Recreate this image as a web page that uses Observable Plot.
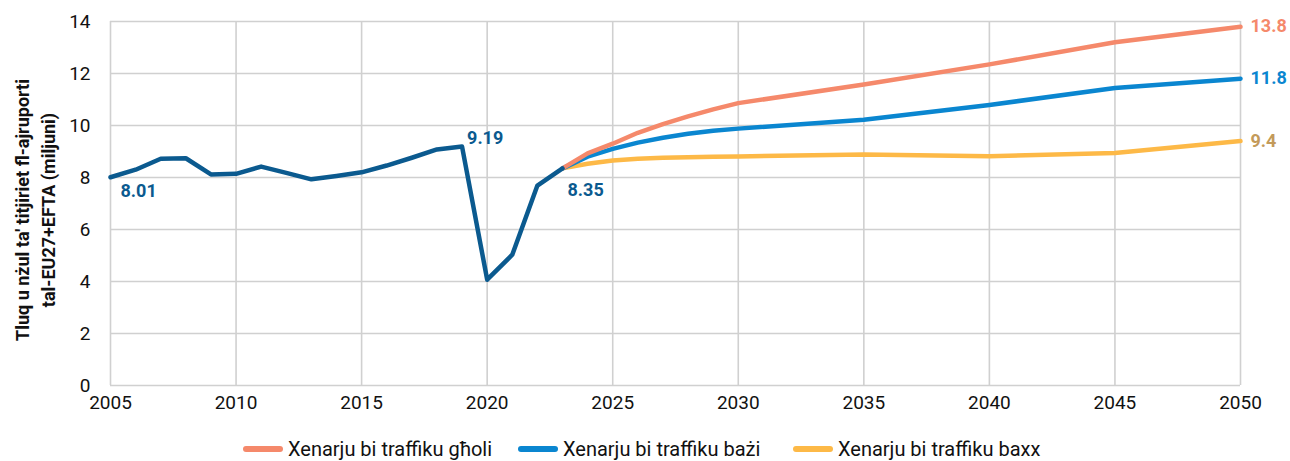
<!DOCTYPE html>
<html>
<head>
<meta charset="utf-8">
<script src="https://cdn.jsdelivr.net/npm/d3@7"></script>
<script src="https://cdn.jsdelivr.net/npm/@observablehq/plot@0.6"></script>
<style>
  html, body { margin: 0; padding: 0; background: #fff; }
  #chart { width: 1290px; }
  .legend { position: relative; height: 36px;
    font-family: "Roboto", sans-serif; font-size: 20px; color: #111; }
  .legend .item { display: flex; align-items: center; position: absolute; top: 12px; }
  .legend .sw { width: 40px; height: 6px; border-radius: 3px; margin-right: 5px; }
</style>
</head>
<body>
<div id="chart"></div>
<script>
// ---- data ----
const histYears = [2005,2006,2007,2008,2009,2010,2011,2012,2013,2014,2015,2016,2017,2018,2019,2020,2021,2022,2023];
const histValues = [8.01,8.30,8.72,8.74,8.12,8.14,8.42,8.18,7.93,8.06,8.20,8.46,8.76,9.08,9.19,4.07,5.03,7.69,8.35];

const scenYears = [2023,2024,2025,2026,2027,2028,2029,2030,2035,2040,2045,2050];
const highValues = [8.35,8.93,9.30,9.72,10.05,10.35,10.62,10.86,11.58,12.35,13.2,13.8];
const baseValues = [8.35,8.80,9.10,9.34,9.53,9.68,9.80,9.88,10.22,10.79,11.44,11.8];
const lowValues  = [8.35,8.53,8.65,8.72,8.76,8.78,8.80,8.81,8.88,8.82,8.94,9.4];

const seriesNames = ["Xenarju bi traffiku għoli", "Xenarju bi traffiku bażi", "Xenarju bi traffiku baxx"];
const seriesColors = ["#f5896b", "#0a86d0", "#fdb947"];
const histColor = "#0b5a8f";

const xTicks = [2005,2010,2015,2020,2025,2030,2035,2040,2045,2050];
const yTicks = [0,2,4,6,8,10,12,14];
const yTitle = ["Tluq u nżul ta' titjiriet fl-ajruporti", "tal-EU27+EFTA (miljuni)"];

// labelled points
const histLabels = [
  {year: 2005, value: 8.01, text: "8.01"},
  {year: 2019, value: 9.19, text: "9.19"},
  {year: 2023, value: 8.35, text: "8.35"}
];
const endLabels = [
  {year: 2050, value: 13.8, text: "13.8", color: "#f5896b"},
  {year: 2050, value: 11.8, text: "11.8", color: "#0a86d0"},
  {year: 2050, value: 9.4,  text: "9.4",  color: "#c39a5a"}
];

// ---- tables ----
const hist = histYears.map((y, i) => ({year: y, value: histValues[i]}));
const scen = [highValues, baseValues, lowValues].flatMap((vals, k) =>
  scenYears.map((y, i) => ({year: y, value: vals[i], series: seriesNames[k]})));

const font = "Roboto, sans-serif";
const lblOpts = {x: "year", y: "value", text: "text", textAnchor: "start", fill: histColor, fontWeight: "bold", fontSize: 18};

const plot = Plot.plot({
  width: 1290,
  height: 425,
  marginLeft: 110,
  marginRight: 50,
  marginTop: 21,
  marginBottom: 40,
  style: {fontFamily: font, fontSize: "18px", color: "#111", background: "#fff", overflow: "visible"},
  x: {domain: [2005, 2050], label: null},
  y: {domain: [0, 14], label: null},
  marks: [
    Plot.ruleX(xTicks, {stroke: "#d0d0d0", strokeWidth: 1.6}),
    Plot.ruleY(yTicks, {stroke: "#d0d0d0", strokeWidth: 1.6}),
    Plot.axisX({ticks: xTicks, tickFormat: d => String(d), tickSize: 0, tickPadding: 10, fontSize: 19, label: null}),
    Plot.axisY({ticks: yTicks, tickSize: 0, tickPadding: 20, fontSize: 19, label: null}),
    Plot.line(scen.filter(d => d.series === seriesNames[2]), {x: "year", y: "value", stroke: seriesColors[2], strokeWidth: 4.5, strokeLinejoin: "round"}),
    Plot.line(scen.filter(d => d.series === seriesNames[1]), {x: "year", y: "value", stroke: seriesColors[1], strokeWidth: 4.5, strokeLinejoin: "round"}),
    Plot.line(scen.filter(d => d.series === seriesNames[0]), {x: "year", y: "value", stroke: seriesColors[0], strokeWidth: 4.5, strokeLinejoin: "round"}),
    Plot.line(hist, {x: "year", y: "value", stroke: histColor, strokeWidth: 4.5, strokeLinejoin: "round"}),
    Plot.text([histLabels[0]], {...lblOpts, dx: 10, dy: 14}),
    Plot.text([histLabels[1]], {...lblOpts, dx: 5, dy: -8}),
    Plot.text([histLabels[2]], {...lblOpts, dx: 5, dy: 22}),
    Plot.text(endLabels, {x: "year", y: "value", text: "text", dx: 10, textAnchor: "start", fill: d => d.color, fontWeight: "bold", fontSize: 18})
  ]
});

document.getElementById("chart").appendChild(plot);

const svg = d3.select(plot);
// Y-axis title, two lines rotated
const t = svg.append("text")
  .attr("transform", "translate(0,210) rotate(-90)")
  .attr("text-anchor", "middle")
  .attr("font-family", font)
  .attr("font-weight", "bold")
  .attr("font-size", 18)
  .attr("fill", "#111");
yTitle.forEach((line, i) => {
  t.append("tspan").attr("x", 0).attr("y", 29 + i * 26).text(line);
});

// legend
const legend = document.createElement("div");
legend.className = "legend";
const legendX = [243, 518, 793];
seriesNames.forEach((name, i) => {
  const item = document.createElement("div");
  item.className = "item";
  item.style.left = legendX[i] + "px";
  item.innerHTML = `<span class="sw" style="background:${seriesColors[i]}"></span><span>${name}</span>`;
  legend.appendChild(item);
});
document.getElementById("chart").appendChild(legend);
</script>
</body>
</html>
